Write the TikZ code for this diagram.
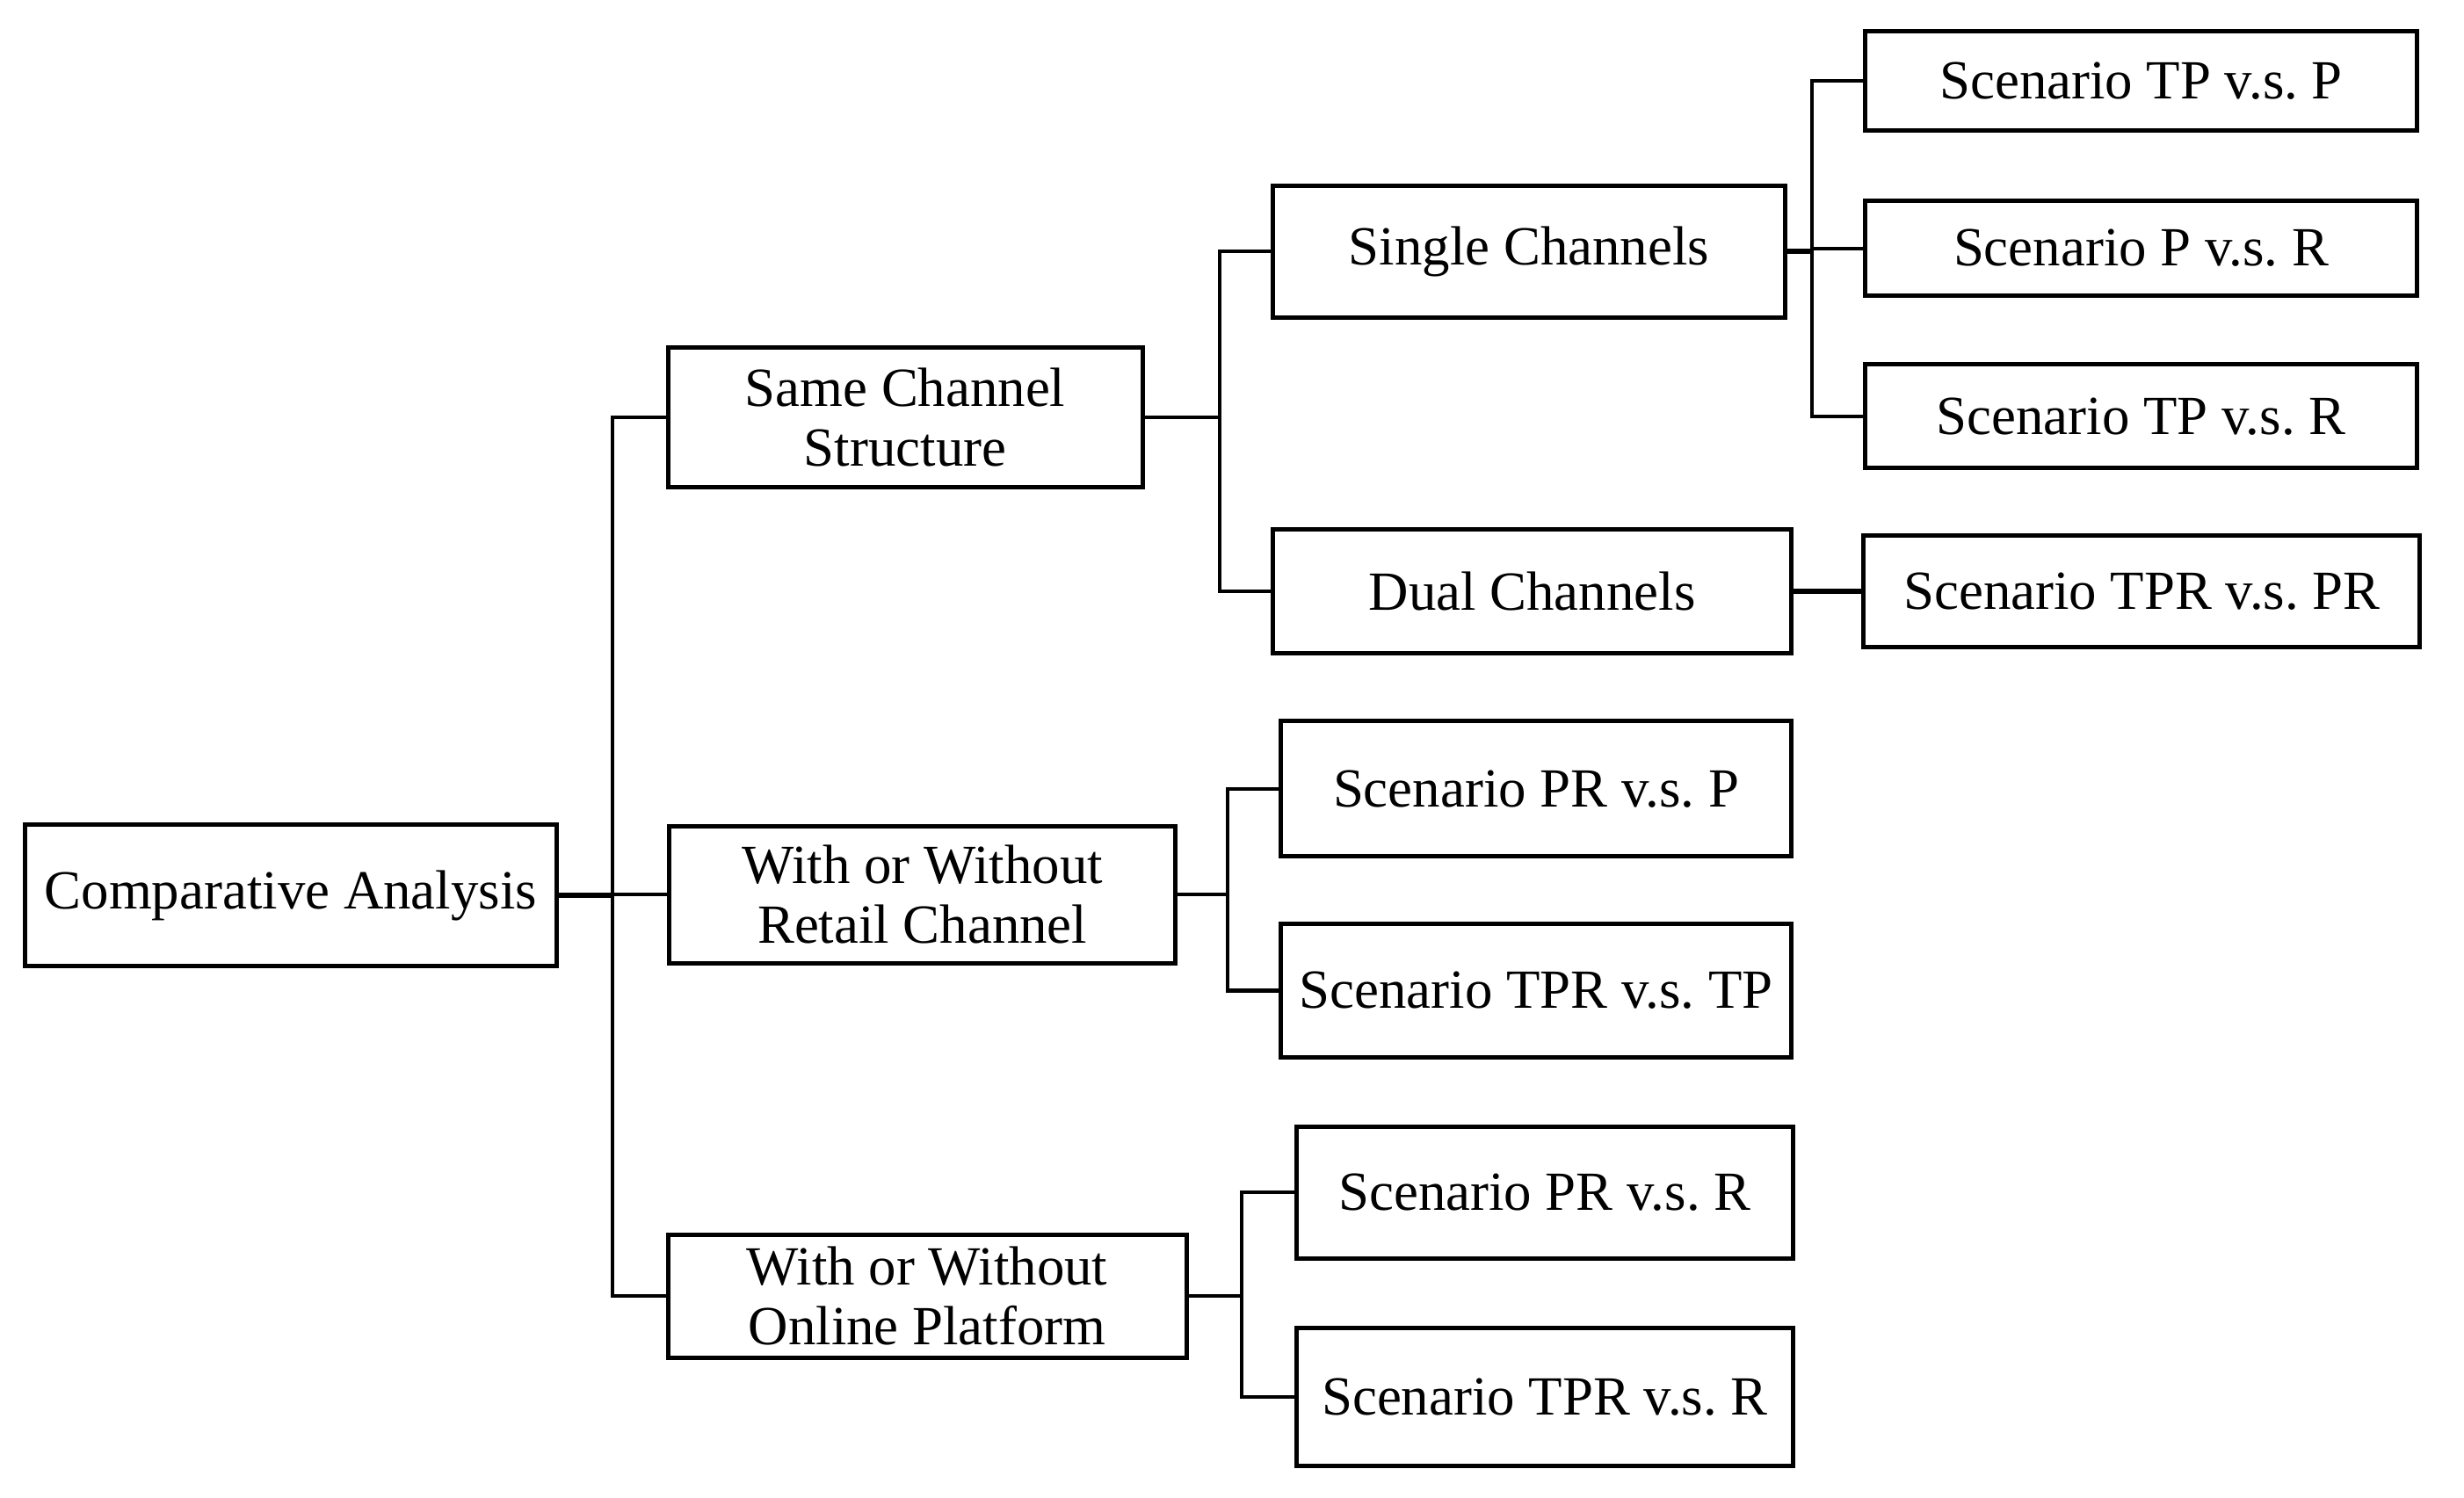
\documentclass[tikz,border=0pt]{standalone}
\usepackage{fontspec}
\setmainfont{Liberation Serif}
\frenchspacing
\begin{document}
\begin{tikzpicture}[x=0.02cm,y=-0.02cm,
  box/.style={draw,line width=1.6pt,rectangle,inner sep=0pt,align=center,
    font=\fontsize{20}{21.6}\selectfont\frenchspacing},
  conn/.style={line width=1.3pt},
  thick conn/.style={line width=2pt}]
\useasboundingbox[fill=white] (0,0) rectangle (1568,953);
% nodes
\node[box,minimum width=338*0.02cm,minimum height=90*0.02cm] (ca) at (185,570) {Comparative Analysis};
\node[box,minimum width=302*0.02cm,minimum height=89*0.02cm] (same) at (576,265.5) {Same Channel\\Structure};
\node[box,minimum width=322*0.02cm,minimum height=87*0.02cm] (retail) at (587,569.5) {With or Without\\Retail Channel};
\node[box,minimum width=330*0.02cm,minimum height=78*0.02cm] (online) at (590,825) {With or Without\\Online Platform};
\node[box,minimum width=326*0.02cm,minimum height=84*0.02cm] (single) at (973,160) {Single Channels};
\node[box,minimum width=330*0.02cm,minimum height=79*0.02cm] (dual) at (975,376.5) {Dual Channels};
\node[box,minimum width=351*0.02cm,minimum height=63*0.02cm] (s1) at (1362.5,51.5) {Scenario TP v.s. P};
\node[box,minimum width=351*0.02cm,minimum height=60*0.02cm] (s2) at (1362.5,158) {Scenario P v.s. R};
\node[box,minimum width=351*0.02cm,minimum height=66*0.02cm] (s3) at (1362.5,265) {Scenario TP v.s. R};
\node[box,minimum width=354*0.02cm,minimum height=71*0.02cm] (s4) at (1363,376.5) {Scenario TPR v.s. PR};
\node[box,minimum width=325*0.02cm,minimum height=86*0.02cm] (s5) at (977.5,502) {Scenario PR v.s. P};
\node[box,minimum width=325*0.02cm,minimum height=85*0.02cm] (s6) at (977.5,630.5) {Scenario TPR v.s. TP};
\node[box,minimum width=316*0.02cm,minimum height=84*0.02cm] (s7) at (983,759) {Scenario PR v.s. R};
\node[box,minimum width=316*0.02cm,minimum height=88*0.02cm] (s8) at (983,889) {Scenario TPR v.s. R};
% bus coordinates
\coordinate (b1) at (390,570);
\coordinate (b2) at (776,265.5);
\coordinate (b3) at (1153,160);
\coordinate (b4) at (781,569.5);
\coordinate (b5) at (790,825);
% connectors
\draw[thick conn] (ca.east) -- (b1);
\draw[conn] (b1) |- (same.west);
\draw[conn] (b1) |- (retail.west);
\draw[conn] (b1) |- (online.west);
\draw[conn] (same.east) -- (b2);
\draw[conn] (b2) |- (single.west);
\draw[conn] (b2) |- (dual.west);
\draw[thick conn] (single.east) -- (b3);
\draw[conn] (b3) |- (s1.west);
\draw[conn] (b3) |- (s2.west);
\draw[conn] (b3) |- (s3.west);
\draw[thick conn] (dual.east) -- (s4.west);
\draw[conn] (retail.east) -- (b4);
\draw[conn] (b4) |- (s5.west);
\draw[conn] (b4) |- (s6.west);
\draw[conn] (online.east) -- (b5);
\draw[conn] (b5) |- (s7.west);
\draw[conn] (b5) |- (s8.west);
\end{tikzpicture}
\end{document}
